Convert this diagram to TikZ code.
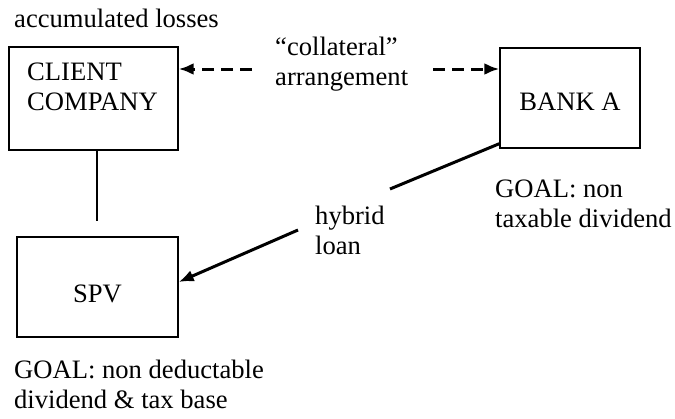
\documentclass[tikz,border=0pt]{standalone}
\usepackage{fontspec}
\setmainfont{Liberation Serif}
\usetikzlibrary{arrows.meta,calc}
\begin{document}
\begin{tikzpicture}[x=1pt,y=-1pt,
  every node/.style={font=\fontsize{26.6}{30}\selectfont, inner sep=0pt},
  entity/.style={draw, line width=1.4pt, minimum width=#1, minimum height=100pt},
  note/.style={anchor=base west, align=left},
  flow/.style={line width=3pt, -{Latex[length=15pt,width=12pt]}},
  dashflow/.style={flow, dash pattern=on 12pt off 7pt},
  link/.style={line width=1.2pt}]
  \useasboundingbox (0,0) rectangle (675,418);

  % parties
  \node[entity=169pt, minimum height=103pt] (client) at (93.5,98.5) {};
  \node[entity=140pt] (bank) at (570,98) {};
  \node[entity=161pt] (spv) at (97.5,287) {};

  % texts inside the boxes (a multi-line node sits on the baseline of its last line)
  \node[note] (clientname) at (27,110) {CLIENT\\COMPANY};
  \node[anchor=base] (bankname) at (bank.center |- 0,110) {BANK A};
  \node[anchor=base] (spvname) at (spv.center |- 0,302) {SPV};

  % annotations
  \node[note] (losses) at (14,27) {accumulated losses};
  \node[note] (collateral) at (275,85) {``collateral''\\arrangement};
  \node[note] (bankgoal) at (495,227) {GOAL: non\\taxable dividend};
  \node[note] (hybrid) at (315,254) {hybrid\\loan};
  \node[note] (spvgoal) at (14,408) {GOAL: non deductable\\dividend \& tax base};

  % collateral arrangement
  \coordinate (dl) at (252,69);
  \coordinate (dr) at (433,69);
  \draw[dashflow] (dl) -- (dl -| client.east);
  \draw[dashflow] (dr) -- (dr -| bank.west);

  % hybrid loan from the bank to the SPV
  \coordinate (h1) at (390,189);
  \coordinate (h2) at (298,230);
  \draw[line width=3pt] ($(bank.south west)+(0,-5)$) -- (h1);
  \draw[flow] (h2) -- ($(spv.east)+(0,-5)$);

  % group link between the client and the SPV
  \coordinate (g) at (97,221);
  \draw[link] (g |- client.south) -- (g);
\end{tikzpicture}
\end{document}
